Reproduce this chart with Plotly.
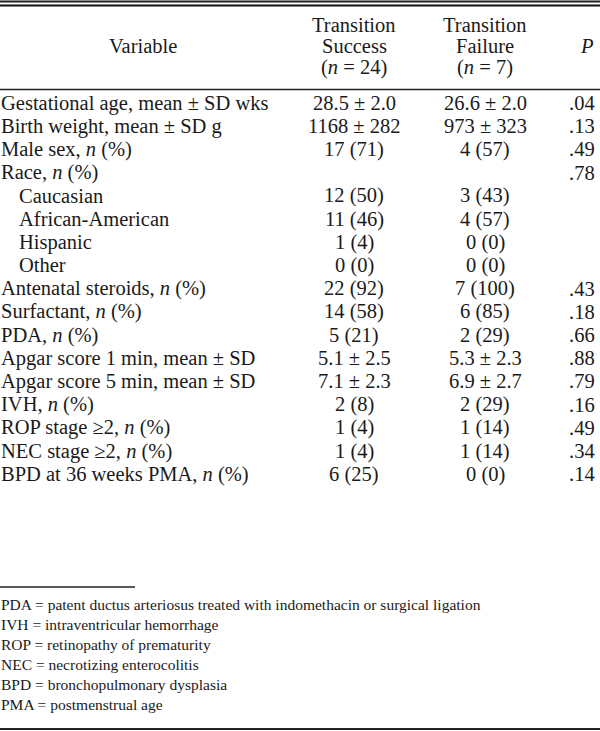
import plotly.graph_objects as go

# Table content
variables = [
    "Gestational age, mean ± SD wks",
    "Birth weight, mean ± SD g",
    "Male sex, <i>n</i> (%)",
    "Race, <i>n</i> (%)",
    "Caucasian",
    "African-American",
    "Hispanic",
    "Other",
    "Antenatal steroids, <i>n</i> (%)",
    "Surfactant, <i>n</i> (%)",
    "PDA, <i>n</i> (%)",
    "Apgar score 1 min, mean ± SD",
    "Apgar score 5 min, mean ± SD",
    "IVH, <i>n</i> (%)",
    "ROP stage ≥2, <i>n</i> (%)",
    "NEC stage ≥2, <i>n</i> (%)",
    "BPD at 36 weeks PMA, <i>n</i> (%)",
]
indented = [False, False, False, False, True, True, True, True,
            False, False, False, False, False, False, False, False, False]
success = ["28.5 ± 2.0", "1168 ± 282", "17 (71)", "", "12 (50)", "11 (46)", "1 (4)", "0 (0)",
           "22 (92)", "14 (58)", "5 (21)", "5.1 ± 2.5", "7.1 ± 2.3", "2 (8)", "1 (4)", "1 (4)", "6 (25)"]
failure = ["26.6 ± 2.0", "973 ± 323", "4 (57)", "", "3 (43)", "4 (57)", "0 (0)", "0 (0)",
           "7 (100)", "6 (85)", "2 (29)", "5.3 ± 2.3", "6.9 ± 2.7", "2 (29)", "1 (14)", "1 (14)", "0 (0)"]
p_values = [".04", ".13", ".49", ".78", "", "", "", "",
            ".43", ".18", ".66", ".88", ".79", ".16", ".49", ".34", ".14"]

header_variable = "Variable"
header_success = ["Transition", "Success", "(<i>n</i> = 24)"]
header_failure = ["Transition", "Failure", "(<i>n</i> = 7)"]
header_p = "<i>P</i>"

footnotes = [
    "PDA = patent ductus arteriosus treated with indomethacin or surgical ligation",
    "IVH = intraventricular hemorrhage",
    "ROP = retinopathy of prematurity",
    "NEC = necrotizing enterocolitis",
    "BPD = bronchopulmonary dysplasia",
    "PMA = postmenstrual age",
]

W, H = 600, 731
FONT = "Liberation Serif, Times New Roman, serif"
INK = "#1a1a1a"
BODY = 20.5
NOTE = 15.5

row_top = 103
row_step = 23.2
succ_x, fail_x = 354, 485

ann = []


def text(x, y, s, size=BODY, anchor="left"):
    ann.append(dict(x=x, y=y, xref="x", yref="y", text=s, showarrow=False,
                    xanchor=anchor, yanchor="middle", borderpad=0,
                    font=dict(family=FONT, size=size, color=INK)))


# header
text(143, 46, header_variable, anchor="center")
for k in range(3):
    text(succ_x, 25 + k * 21, header_success[k], anchor="center")
    text(fail_x, 25 + k * 21, header_failure[k], anchor="center")
text(587, 46, header_p, anchor="center")

# body
for i, v in enumerate(variables):
    y = row_top + i * row_step
    text(18 if indented[i] else 0, y, v)
    if success[i]:
        text(succ_x, y, success[i], anchor="center")
    if failure[i]:
        text(fail_x, y, failure[i], anchor="center")
    if p_values[i]:
        text(596, y, p_values[i], anchor="right")

# footnotes
for j, f in enumerate(footnotes):
    text(0, 604 + j * 20, f, size=NOTE)

# table rules drawn as plain line traces: x0, x1, y (px from top), width, colour
rules = [
    (0, W, 1.5, 2, "#222222"),
    (0, W, 5.5, 1.8, "#111111"),
    (0, W, 89.5, 1.6, "#222222"),
    (0, 135, 587, 1.5, "#222222"),
    (0, W, 729, 1.8, "#222222"),
]

fig = go.Figure()
for a, b, y, w, c in rules:
    fig.add_trace(go.Scatter(x=[a, b], y=[y, y], mode="lines", cliponaxis=False,
                             line=dict(color=c, width=w), hoverinfo="skip"))

fig.update_layout(
    width=W, height=H,
    margin=dict(l=0, r=0, t=0, b=0),
    paper_bgcolor="white", plot_bgcolor="white",
    xaxis=dict(range=[0, W], visible=False, fixedrange=True),
    yaxis=dict(range=[H, 0], visible=False, fixedrange=True),
    annotations=ann, showlegend=False,
)
fig.write_html("out.html", config={"displayModeBar": False},
               post_script="document.body.style.margin='0';document.body.style.overflow='hidden';")
